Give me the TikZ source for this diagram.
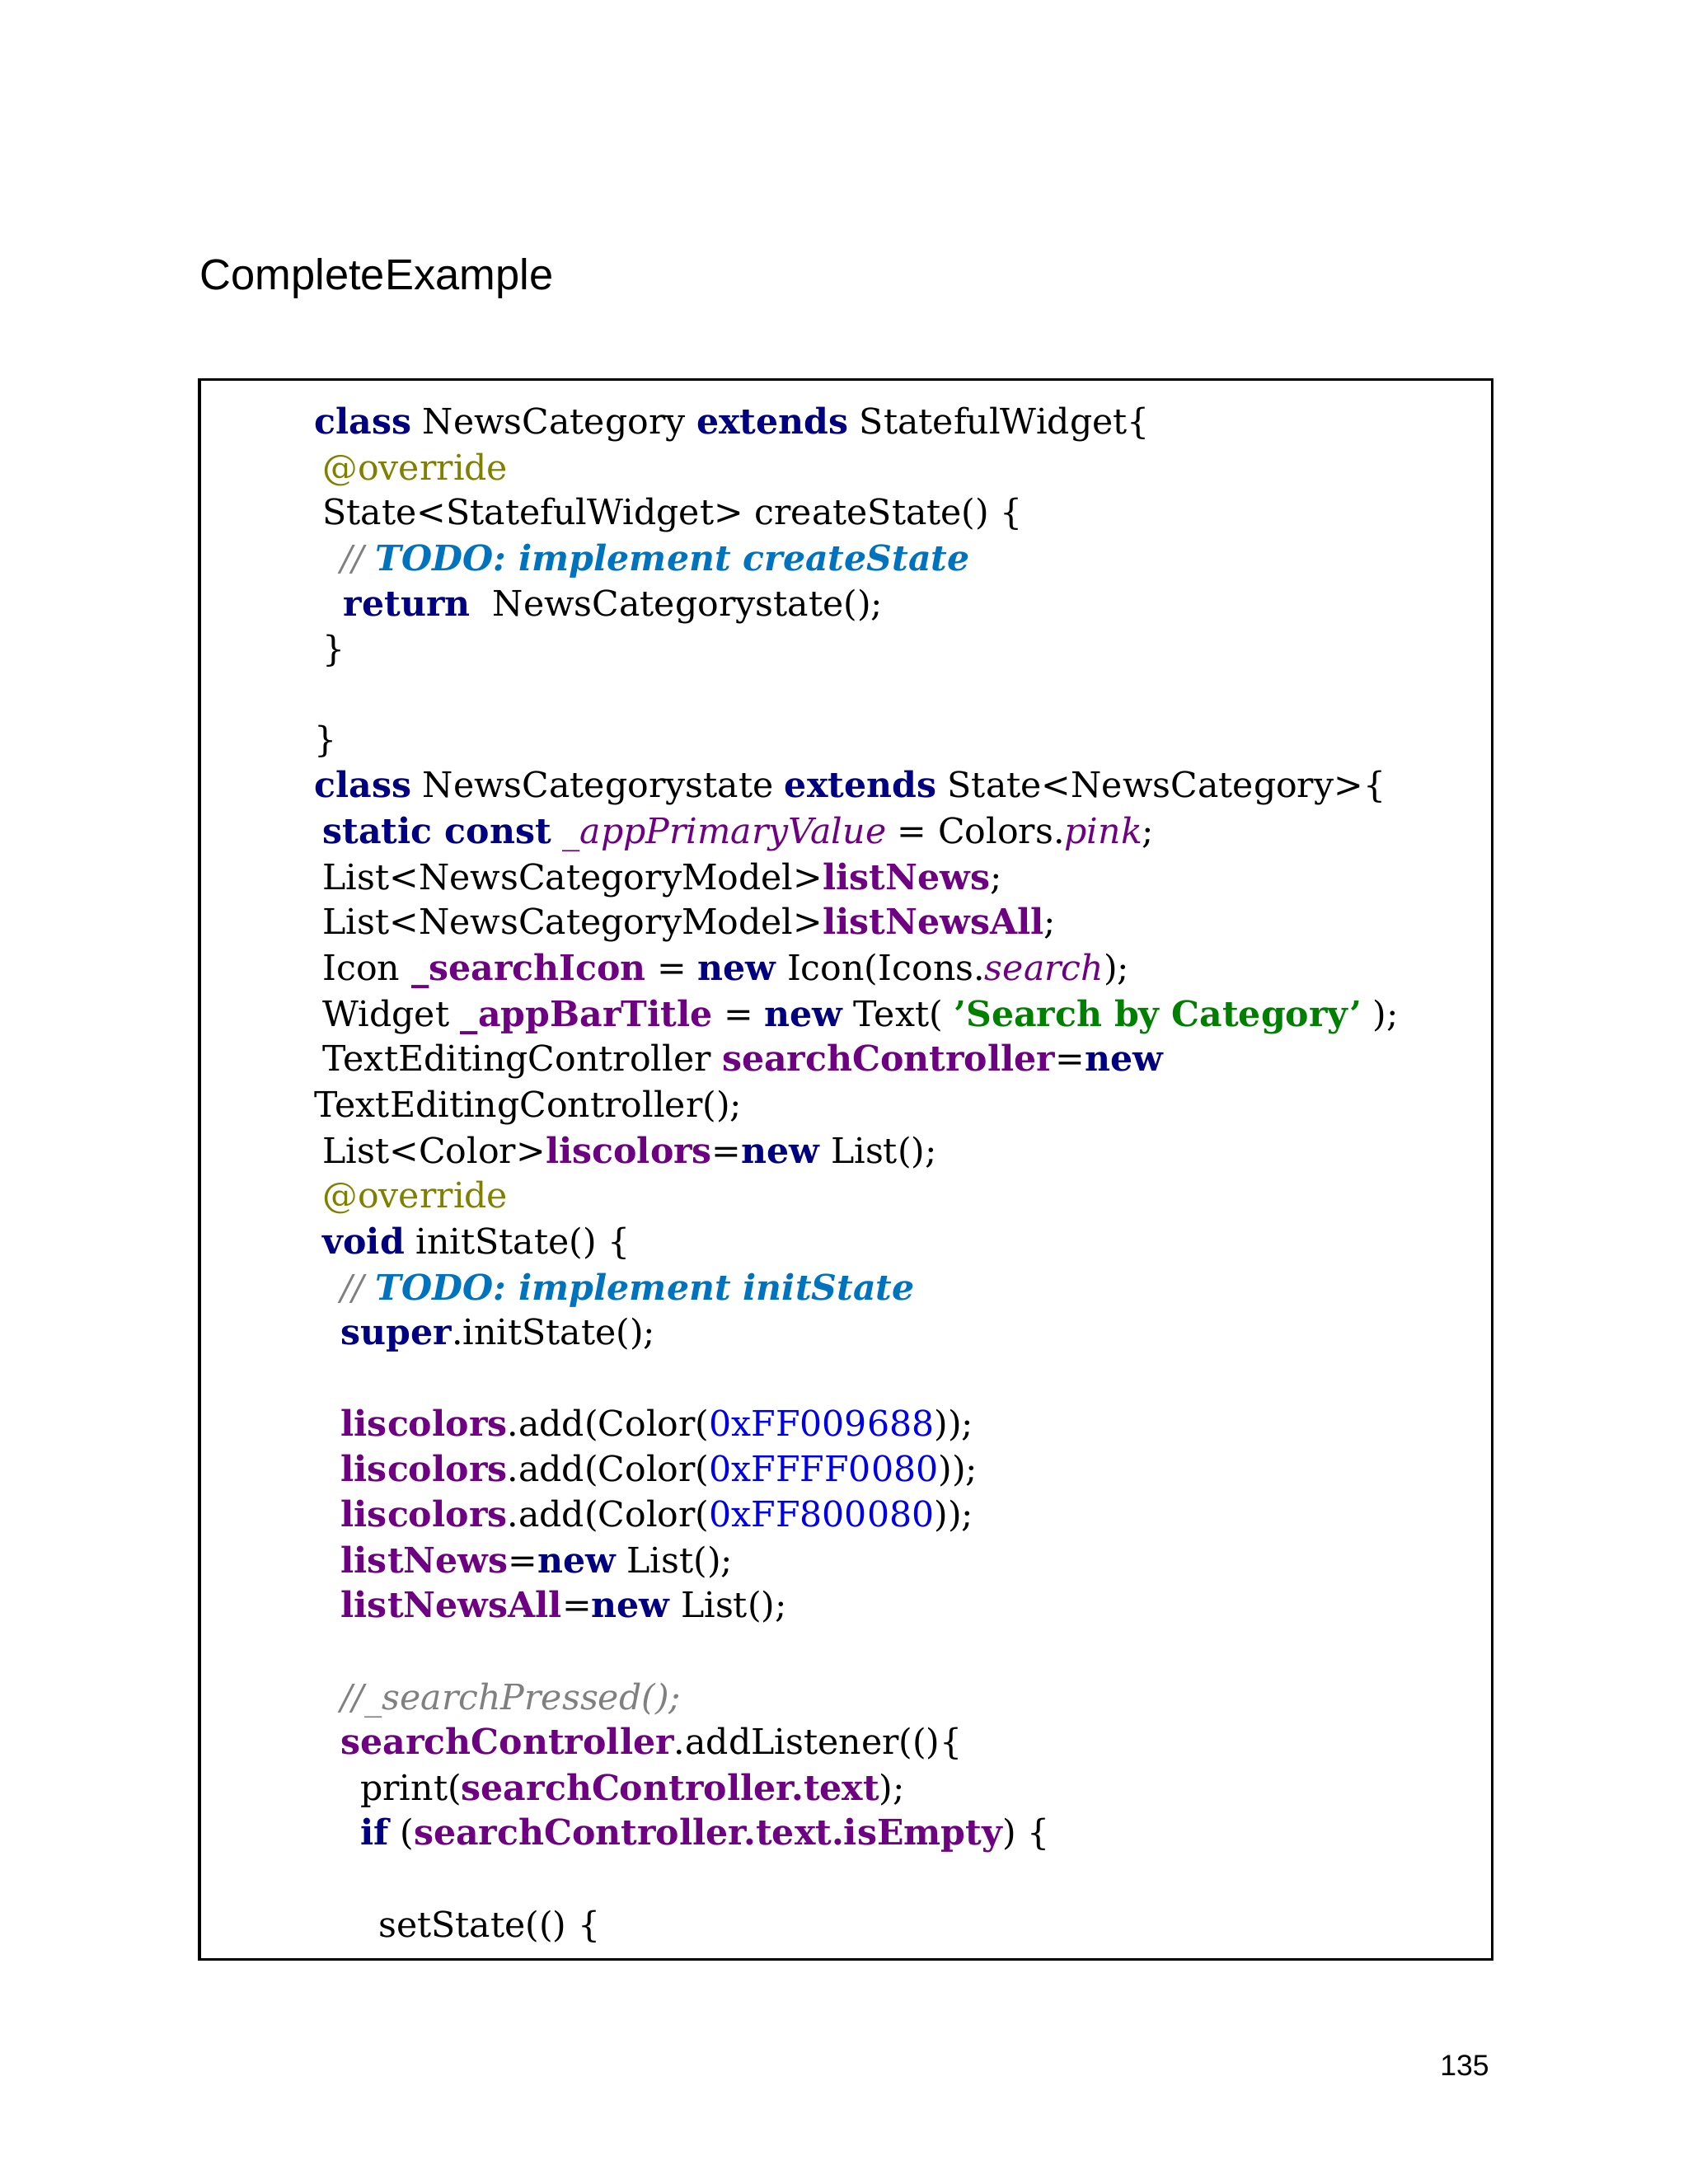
\documentclass[tikz,border=0pt]{standalone}
\usepackage{fontspec}
\setmainfont{DejaVu Serif}
\newfontfamily\titlefont{Liberation Sans}
\definecolor{kwc}{RGB}{0,0,128}
\definecolor{fdc}{RGB}{110,0,130}
\definecolor{anc}{RGB}{128,128,0}
\definecolor{tdc}{RGB}{0,115,191}
\definecolor{nmc}{RGB}{0,0,230}
\definecolor{stc}{RGB}{0,128,0}
\definecolor{cmc}{RGB}{128,128,128}
\newcommand{\K}[1]{\textcolor{kwc}{\bfseries #1}}
\newcommand{\F}[1]{\textcolor{fdc}{\bfseries #1}}
\newcommand{\FI}[1]{\textcolor{fdc}{\itshape #1}}
\newcommand{\AN}[1]{\textcolor{anc}{#1}}
\newcommand{\TD}[1]{\textcolor{cmc}{\itshape //} \textcolor{tdc}{\bfseries\itshape #1}}
\newcommand{\NM}[1]{\textcolor{nmc}{#1}}
\newcommand{\ST}[1]{\textcolor{stc}{\bfseries #1}}
\newcommand{\CM}[1]{\textcolor{cmc}{\itshape #1}}
\begin{document}
\begin{tikzpicture}[x=0.5pt,y=-0.5pt,
  code/.style={anchor=base west,inner sep=0pt,font=\fontsize{12.6}{14}\selectfont}]
\useasboundingbox (0,0) rectangle (1210,1566);
\node[anchor=base west,inner sep=0pt,font=\titlefont\fontsize{15.5}{18}\selectfont] (title) at (143,208) {CompleteExample};
\draw[line width=1pt] (143,272) rectangle (1070,1405);
\node[anchor=base east,inner sep=0pt,font=\titlefont\fontsize{10.5}{12}\selectfont] (pg) at (1068,1488) {135};
\def\B{10}
\node[code] (l1) at (225,301+\B) {\K{class} NewsCategory \K{extends} StatefulWidget\{};
\node[code] (l2) at (231,334+\B) {\AN{@override}};
\node[code] (l3) at (231,366+\B) {State<StatefulWidget> createState() \{};
\node[code] (l4) at (244,399+\B) {\TD{TODO: implement createState}};
\node[code] (l5) at (246,432+\B) {\K{return}\ \ NewsCategorystate();};
\node[code] (l6) at (231,464+\B) {\}};
\node[code] (l7) at (225,529+\B) {\}};
\node[code] (l8) at (225,562+\B) {\K{class} NewsCategorystate \K{extends} State<NewsCategory>\{};
\node[code] (l9) at (231,595+\B) {\K{static const} \FI{\_appPrimaryValue} = Colors.\FI{pink};};
\node[code] (l10) at (231,628+\B) {List<NewsCategoryModel>\F{listNews};};
\node[code] (l11) at (231,660+\B) {List<NewsCategoryModel>\F{listNewsAll};};
\node[code] (l12) at (231,693+\B) {Icon \F{\_searchIcon} = \K{new} Icon(Icons.\FI{search});};
\node[code] (l13) at (231,726+\B) {Widget \F{\_appBarTitle} = \K{new} Text( \ST{'Search by Category'} );};
\node[code] (l14) at (231,758+\B) {TextEditingController \F{searchController}=\K{new}};
\node[code] (l15) at (225,791+\B) {TextEditingController();};
\node[code] (l16) at (231,824+\B) {List<Color>\F{liscolors}=\K{new} List();};
\node[code] (l17) at (231,856+\B) {\AN{@override}};
\node[code] (l18) at (231,889+\B) {\K{void} initState() \{};
\node[code] (l19) at (244,922+\B) {\TD{TODO: implement initState}};
\node[code] (l20) at (244,954+\B) {\K{super}.initState();};
\node[code] (l21) at (244,1020+\B) {\F{liscolors}.add(Color(\NM{0xFF009688}));};
\node[code] (l22) at (244,1052+\B) {\F{liscolors}.add(Color(\NM{0xFFFF0080}));};
\node[code] (l23) at (244,1085+\B) {\F{liscolors}.add(Color(\NM{0xFF800080}));};
\node[code] (l24) at (244,1118+\B) {\F{listNews}=\K{new} List();};
\node[code] (l25) at (244,1150+\B) {\F{listNewsAll}=\K{new} List();};
\node[code] (l26) at (244,1216+\B) {\CM{//\_searchPressed();}};
\node[code] (l27) at (244,1248+\B) {\F{searchController}.addListener(()\{};
\node[code] (l28) at (258,1281+\B) {print(\F{searchController.text});};
\node[code] (l29) at (258,1313+\B) {\K{if} (\F{searchController.text.isEmpty}) \{};
\node[code] (l30) at (271,1379+\B) {setState(() \{};
\end{tikzpicture}
\end{document}
